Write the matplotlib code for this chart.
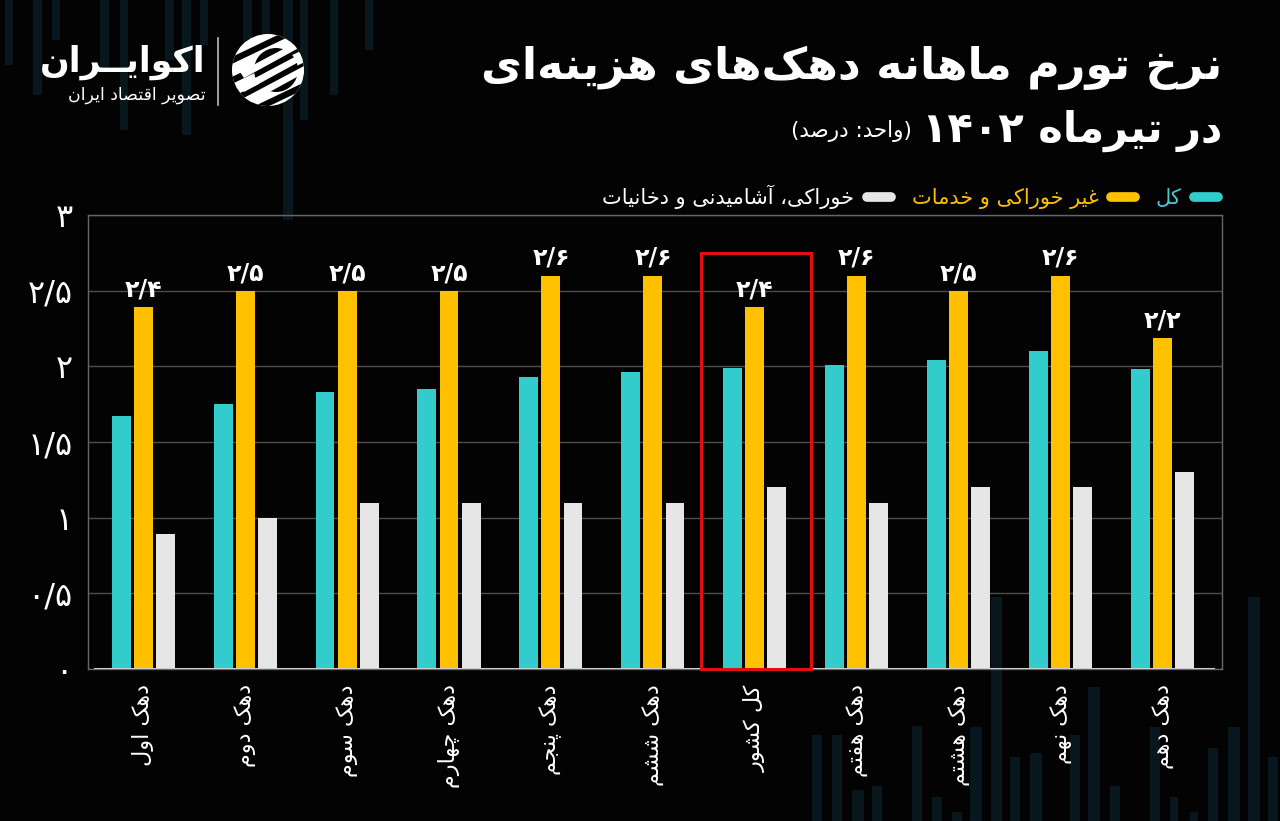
import re
import matplotlib
matplotlib.use("Agg")
import matplotlib.pyplot as plt
import numpy as np
from matplotlib.patches import Rectangle, Circle, Polygon
from matplotlib.lines import Line2D
from matplotlib.text import Annotation

# ---------------- data ----------------
categories = ["دهک اول", "دهک دوم", "دهک سوم", "دهک چهارم", "دهک پنجم", "دهک ششم",
              "کل کشور", "دهک هفتم", "دهک هشتم", "دهک نهم", "دهک دهم"]
total_vals = [1.67, 1.75, 1.83, 1.85, 1.93, 1.96, 1.99, 2.01, 2.04, 2.10, 1.98]
nonfood_vals = [2.39, 2.5, 2.5, 2.5, 2.6, 2.6, 2.39, 2.6, 2.5, 2.6, 2.19]
food_vals = [0.89, 1.0, 1.1, 1.1, 1.1, 1.1, 1.2, 1.1, 1.2, 1.2, 1.3]
series_names = ["کل", "غیر خوراکی و خدمات", "خوراکی، آشامیدنی و دخانیات"]
yticks = [0, 0.5, 1, 1.5, 2, 2.5, 3]
highlight = "کل کشور"

# ---------------- minimal Persian shaping ----------------
DUAL = {'ب': 0xFE8F, 'ت': 0xFE95, 'ث': 0xFE99, 'ج': 0xFE9D, 'ح': 0xFEA1, 'خ': 0xFEA5,
        'س': 0xFEB1, 'ش': 0xFEB5, 'ص': 0xFEB9, 'ض': 0xFEBD, 'ط': 0xFEC1, 'ظ': 0xFEC5,
        'ع': 0xFEC9, 'غ': 0xFECD, 'ف': 0xFED1, 'ق': 0xFED5, 'ك': 0xFED9, 'ل': 0xFEDD,
        'م': 0xFEE1, 'ن': 0xFEE5, 'ه': 0xFEE9, 'ي': 0xFEF1, 'ئ': 0xFE89,
        'پ': 0xFB56, 'چ': 0xFB7A, 'ک': 0xFB8E, 'گ': 0xFB92, 'ی': 0xFBFC}
RIGHT = {'آ': 0xFE81, 'أ': 0xFE83, 'ؤ': 0xFE85, 'إ': 0xFE87, 'ا': 0xFE8D, 'ة': 0xFE93,
         'د': 0xFEA9, 'ذ': 0xFEAB, 'ر': 0xFEAD, 'ز': 0xFEAF, 'و': 0xFEED, 'ى': 0xFEEF,
         'ژ': 0xFB8A}
KASH = 'ـ'


def _jt(c):
    if c in DUAL or c == KASH:
        return 'D'
    if c in RIGHT:
        return 'R'
    return 'U'


def fa(s):
    out = []
    n = len(s)
    for i, c in enumerate(s):
        t = _jt(c)
        if t == 'U' or c == KASH:
            out.append(c)
            continue
        prev = s[i - 1] if i > 0 else ''
        nxt = s[i + 1] if i + 1 < n else ''
        jp = bool(prev) and _jt(prev) == 'D'
        jn = t == 'D' and bool(nxt) and _jt(nxt) in ('D', 'R')
        if t == 'D':
            b = DUAL[c]
            f = b + 3 if (jp and jn) else b + 1 if jp else b + 2 if jn else b
        else:
            b = RIGHT[c]
            f = b + 1 if jp else b
        out.append(chr(f))
    r = ''.join(out)
    r = r.replace('\uFEDF\uFE8E', '\uFEFB').replace('\uFEE0\uFE8E', '\uFEFC')
    r = r.replace('\u200c', '')
    r = r[::-1]
    r = re.sub(r'[0-9۰-۹][0-9۰-۹/.]*', lambda m: m.group(0)[::-1], r)
    r = r.translate(str.maketrans({'(': ')', ')': '('}))
    return r


def fdig(v):
    s = ('%g' % round(v, 1)).replace('.', '/')
    return s.translate(str.maketrans('0123456789', '۰۱۲۳۴۵۶۷۸۹'))


# ---------------- figure ----------------
BG = '#030303'
TEAL = '#33cccc'
YEL = '#ffc000'
WHT = '#e6e6e6'
DEC = '#08171d'
FONT = 'DejaVu Sans'

fig = plt.figure(figsize=(12.8, 8.21), dpi=100, facecolor=BG)

# decorative background bars (pixel coordinates)
bg = fig.add_axes([0, 0, 1, 1], zorder=-10)
bg.set_xlim(0, 1280)
bg.set_ylim(821, 0)
bg.axis('off')
decor_top = [(5, 8, 65), (33, 9, 95), (52, 8, 40), (100, 9, 70), (120, 8, 130), (165, 9, 60),
             (183, 8, 110), (200, 8, 45), (243, 9, 85), (262, 8, 55), (283, 10, 220),
             (300, 8, 120), (330, 8, 95), (365, 8, 50), (182, 9, 135)]
for x, w, h in decor_top:
    bg.add_patch(Rectangle((x, 0), w, h, color=DEC, lw=0))
decor_bot = [(812, 10, 735), (832, 10, 735), (852, 12, 790), (872, 10, 786), (912, 10, 726),
             (932, 10, 797), (952, 10, 812), (970, 12, 727), (991, 11, 597), (1010, 10, 757),
             (1030, 12, 753), (1070, 10, 735), (1088, 12, 687), (1110, 10, 786), (1150, 10, 727),
             (1170, 8, 797), (1190, 8, 812), (1208, 10, 748), (1228, 12, 727), (1248, 12, 597),
             (1268, 10, 757)]
for x, w, top in decor_bot:
    bg.add_patch(Rectangle((x, top), w, 821 - top, color=DEC, lw=0))

# logo
bg.plot([218, 218], [38, 105], color='#bbbbbb', lw=1.2)
clip = Circle((268, 70), 36, transform=bg.transData)
bg.add_patch(Circle((268, 70), 36, color='white', lw=0))
for k in range(4):
    o = -30 + k * 20
    gap = Polygon([(215, 95 + o), (330, 40 + o), (330, 47 + o), (215, 102 + o)],
                  closed=True, color=BG, lw=0)
    bg.add_patch(gap)
    gap.set_clip_path(clip)
bg.add_patch(Circle((276, 70), 22, color=BG, lw=0, zorder=3))
for k in range(3):
    o = -14 + k * 14
    p = Polygon([(240, 86 + o), (304, 52 + o), (306, 58 + o), (244, 92 + o)],
                closed=True, color='white', lw=0, zorder=4)
    bg.add_patch(p)
    p.set_clip_path(clip)

fig.text(205 / 1280, 1 - 62 / 821, fa("اکوایــران"), color='white', fontsize=25,
         fontweight='bold', family=FONT, ha='right', va='center')
fig.text(206 / 1280, 1 - 95 / 821, fa("تصویر اقتصاد ایران"), color='white', fontsize=12.5,
         family=FONT, ha='right', va='center')

# titles
fig.text(1222 / 1280, 1 - 68 / 821, fa("نرخ تورم ماهانه دهک‌های هزینه‌ای"), color='white',
         fontsize=32, fontweight='bold', family=FONT, ha='right', va='center')
t2 = fig.text(1222 / 1280, 1 - 131 / 821, fa("در تیرماه ۱۴۰۲"), color='white',
              fontsize=30, fontweight='bold', family=FONT, ha='right', va='center')
fig.add_artist(Annotation(fa("(واحد: درصد)"), xy=(0, 0.5), xycoords=t2,
                          xytext=(-7, 0), textcoords='offset points',
                          ha='right', va='center', color='white',
                          fontsize=15.5, family=FONT))

# main axes
L, R, T, B = 88, 1222, 215, 669
ax = fig.add_axes([L / 1280, 1 - B / 821, (R - L) / 1280, (B - T) / 821])
ax.set_facecolor('none')
x = np.arange(len(categories))
bw = 0.186
off = 0.216
ax.bar(x - off, total_vals, bw, color=TEAL, zorder=3)
ax.bar(x, nonfood_vals, bw, color=YEL, zorder=3)
ax.bar(x + off, food_vals, bw, color=WHT, zorder=3)

for xi, v in zip(x, nonfood_vals):
    ax.annotate(fdig(v), (xi, v), xytext=(0, 4), textcoords='offset points', ha='center',
                va='bottom', color='white', fontsize=17, fontweight='bold', family=FONT,
                zorder=5)

ax.set_xlim(-0.54, len(categories) - 1 + 0.58)
ax.set_ylim(0, 3)
ax.set_yticks(yticks)
ax.set_yticklabels([fdig(v) for v in yticks], fontsize=23, color='white', family=FONT)
ax.set_xticks(x)
ax.set_xticklabels([fa(c) for c in categories], rotation=90, fontsize=16, color='white',
                   family=FONT, va='top', ha='center')
ax.tick_params(axis='both', length=0)
ax.tick_params(axis='y', pad=11)
ax.tick_params(axis='x', pad=11)
ax.grid(axis='y', color='#4d4d4d', lw=1, zorder=0)
for s in ['left', 'top', 'right', 'bottom']:
    ax.spines[s].set_color('#666666')
    ax.spines[s].set_linewidth(1)
ax.axhline(0, xmin=0.006, xmax=0.992, color='#cfcfcf', lw=2.2, zorder=4)

hi = categories.index(highlight)
ax.add_patch(Rectangle((hi - 0.53, 0), 1.08, 2.75, fill=False, ec='#e01010', lw=2.2,
                       zorder=6, clip_on=False))

# legend
handles = [Line2D([], [], color=c, lw=7, solid_capstyle='round') for c in (WHT, YEL, TEAL)]
labels = [fa(series_names[2]), fa(series_names[1]), fa(series_names[0])]
leg = fig.legend(handles, labels, loc='center right', bbox_to_anchor=(1218 / 1280, 1 - 197 / 821),
                 ncol=3, frameon=False, markerfirst=False, handlelength=1.15,
                 handletextpad=0.6, columnspacing=1.0, borderaxespad=0, borderpad=0,
                 prop={'family': FONT, 'size': 15})
for txt, c in zip(leg.get_texts(), ['white', YEL, '#45c8d0']):
    txt.set_color(c)

fig.savefig('out.png', dpi=100, facecolor=BG)
